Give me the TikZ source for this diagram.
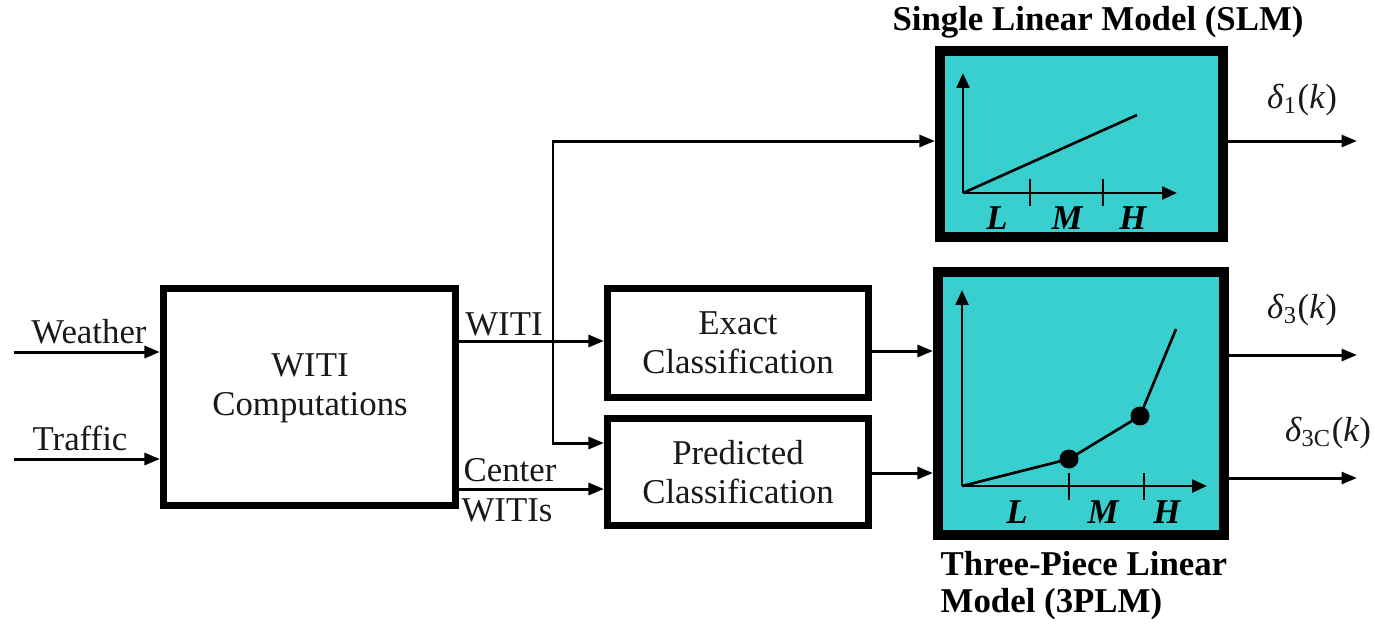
\documentclass[tikz,border=0pt]{standalone}
\usepackage{fontspec}
\setmainfont{Liberation Serif}
\usetikzlibrary{arrows.meta}
\definecolor{plotcyan}{RGB}{58,207,207}
\definecolor{txt}{RGB}{25,25,25}
\tikzset{
  fnt/.style={font=\fontsize{9.9}{11.2}\selectfont, text=txt},
  blk/.style={draw=black, line width=2pt, fill=white, fnt, align=center, inner sep=0pt},
  plotbox/.style={draw=black, line width=2.85pt, fill=plotcyan, inner sep=0pt},
  conn/.style={line width=0.85pt, -{Triangle[length=4.4pt,width=3.4pt]}},
  axis/.style={line width=0.8pt, -{Triangle[length=4.2pt,width=3.6pt]}},
  curve/.style={line width=0.75pt},
  tick/.style={line width=0.75pt},
  lbl/.style={fnt, inner sep=0pt, align=center},
  ax/.style={font=\fontsize{9.9}{10.6}\selectfont\bfseries\itshape, inner sep=0pt},
  ttl/.style={font=\fontsize{9.9}{10.3}\selectfont\bfseries, inner sep=0pt, align=left},
  dot/.style={fill=black}
}
\begin{document}
\begin{tikzpicture}[x=0.01cm, y=-0.01cm]
\useasboundingbox (0,0) rectangle (1375,626);

% blocks
\node[blk, minimum width=2.92cm, minimum height=2.17cm] (witi) at (309.5,397) {};
\node[lbl] (wititext) at (310,388) {WITI\\Computations};
\node[blk, minimum width=2.61cm, minimum height=1.09cm] (exact) at (738,343) {Exact\\Classification};
\node[blk, minimum width=2.61cm, minimum height=1.07cm] (pred) at (738,472) {Predicted\\Classification};
\node[plotbox, minimum width=2.83cm, minimum height=1.86cm] (slm) at (1081.5,144) {};
\node[plotbox, minimum width=2.86cm, minimum height=2.63cm] (plm) at (1081,403.5) {};

% coordinates
\coordinate (w0) at (14,352);
\coordinate (t0) at (14,459);
\coordinate (wl) at (0,341);
\coordinate (br) at (553,341);
\coordinate (s1) at (553,141);
\coordinate (p1) at (553,443);
\coordinate (cl) at (0,489);
\coordinate (el) at (0,351);
\coordinate (pl) at (0,473);
\coordinate (o1) at (1357,141);
\coordinate (o3) at (1357,355);
\coordinate (o3c) at (1357,478);

% connectors
\draw[conn] (w0) -- (w0 -| witi.west);
\draw[conn] (t0) -- (t0 -| witi.west);
\draw[conn] (witi.east |- wl) -- (exact.west |- wl);
\draw[conn] (br) -- (s1) -- (s1 -| slm.west);
\draw[conn] (br) -- (p1) -- (p1 -| pred.west);
\draw[conn] (witi.east |- cl) -- (pred.west |- cl);
\draw[conn] (exact.east |- el) -- (plm.west |- el);
\draw[conn] (pred.east |- pl) -- (plm.west |- pl);
\draw[conn] (slm.east |- o1) -- (o1);
\draw[conn] (plm.east |- o3) -- (o3);
\draw[conn] (plm.east |- o3c) -- (o3c);

% labels
\node[lbl] (lw) at (89,332) {Weather};
\node[lbl] (lt) at (80,438) {Traffic};
\node[lbl] (lwiti) at (504,324) {WITI};
\node[lbl] (lc) at (510,470) {Center};
\node[lbl] (lcw) at (507,510) {WITIs};
\node[lbl] (d1) at (1302,100) {\textit{δ}\textsubscript{1}(\textit{k})};
\node[lbl] (d3) at (1302,310) {\textit{δ}\textsubscript{3}(\textit{k})};
\node[lbl] (d3c) at (1328,433) {\textit{δ}\textsubscript{3C}(\textit{k})};

% titles
\node[ttl] (t1) at (1098,22) {Single Linear Model (SLM)};
\node[ttl, anchor=north west] (t2) at (940,551) {Three-Piece Linear\\Model (3PLM)};

% SLM plot
\coordinate (so) at (963,193);
\draw[axis] (so) -- (963,73);
\draw[axis] (so) -- (1177,193);
\draw[tick] (1030,179) -- (1030,206);
\draw[tick] (1103,179) -- (1103,206);
\draw[curve] (so) -- (1137,115);
\node[ax] (sl) at (997,218) {L};
\node[ax] (sm) at (1067,218) {M};
\node[ax] (sh) at (1133,218) {H};

% 3PLM plot
\coordinate (po) at (962,486);
\draw[axis] (po) -- (962,290);
\draw[axis] (po) -- (1207,486);
\draw[tick] (1069,473) -- (1069,500);
\draw[tick] (1144,473) -- (1144,500);
\draw[curve] (po) -- (1069,459) -- (1140,416) -- (1176,329);
\fill[dot] (1069,459) circle[radius=0.95mm];
\fill[dot] (1140,416) circle[radius=0.95mm];
\node[ax] (pl1) at (1017,512) {L};
\node[ax] (pm1) at (1103,512) {M};
\node[ax] (ph1) at (1167,512) {H};
\end{tikzpicture}
\end{document}
